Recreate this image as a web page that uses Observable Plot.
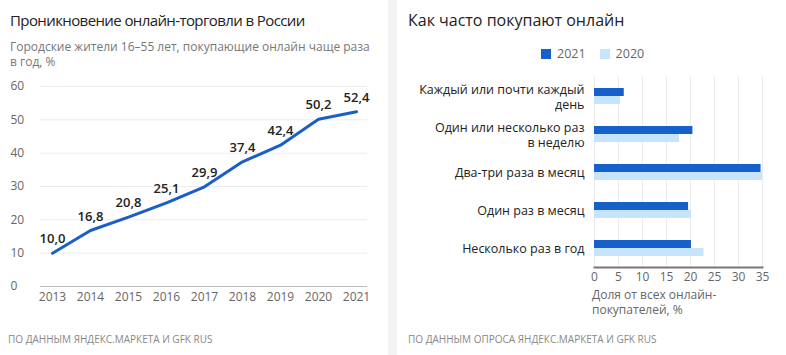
<!DOCTYPE html>
<html>
<head>
<meta charset="utf-8">
<script src="https://cdn.jsdelivr.net/npm/d3@7"></script>
<script src="https://cdn.jsdelivr.net/npm/@observablehq/plot@0.6"></script>
<style>
  html, body { margin: 0; padding: 0; background: #fff; }
  body { width: 786px; height: 355px; position: relative; overflow: hidden; font-family: "Open Sans", "Noto Sans", sans-serif; }
  .abs { position: absolute; white-space: nowrap; }
  .title { font-size: 16px; color: #222; }
  .sub { font-size: 12px; color: #777; line-height: 15px; }
  .foot { font-size: 10px; color: #888; }
  .sep { position: absolute; left: 388px; top: 0; width: 9px; height: 355px; background: #f3f3f3; }
  .leg { font-size: 12.5px; color: #666; display: flex; align-items: center; }
  .sw { display: inline-block; width: 10px; height: 10px; margin-right: 6px; }
  .xl { font-size: 12px; color: #666; line-height: 15px; white-space: normal; }
</style>
</head>
<body>
<div class="sep"></div>
<div class="abs title" style="left:10px; top:10px; font-size:15px; letter-spacing:-0.6px;">Проникновение онлайн-торговли в России</div>
<div class="abs sub" style="left:10px; top:39px;">Городские жители 16–55 лет, покупающие онлайн чаще раза<br>в год, %</div>
<div id="left" class="abs" style="left:0; top:70px;"></div>
<div class="abs foot" style="left:8px; top:332px;">ПО ДАННЫМ ЯНДЕКС.МАРКЕТА И GFK RUS</div>

<div class="abs title" style="left:408px; top:9px;">Как часто покупают онлайн</div>
<div class="abs leg" style="left:541px; top:45px;">
  <span class="sw" style="background:#1660cb"></span><span style="margin-right:14px">2021</span>
  <span class="sw" style="background:#c6e4fc"></span><span>2020</span>
</div>
<div id="right" class="abs" style="left:397px; top:70px;"></div>
<div class="abs xl" style="left:592px; top:287px;">Доля от всех онлайн-<br>покупателей, %</div>
<div class="abs foot" style="left:408px; top:332px;">ПО ДАННЫМ ОПРОСА ЯНДЕКС.МАРКЕТА И GFK RUS</div>

<script>
// Left chart data
const years = [2013, 2014, 2015, 2016, 2017, 2018, 2019, 2020, 2021];
const penetration = [10.0, 16.8, 20.8, 25.1, 29.9, 37.4, 42.4, 50.2, 52.4];
const yTicks = [0, 10, 20, 30, 40, 50, 60];

// Right chart data
const categories = [
  "Каждый или почти каждый день",
  "Один или несколько раз в неделю",
  "Два-три раза в месяц",
  "Один раз в месяц",
  "Несколько раз в год"
];
const share2021 = [6.2, 20.5, 34.7, 19.6, 20.2];
const share2020 = [5.4, 17.7, 35.0, 20.2, 22.8];
const xTicks = [0, 5, 10, 15, 20, 25, 30, 35];
const categoryLabels = [
  "Каждый или почти каждый\nдень",
  "Один или несколько раз\nв неделю",
  "Два-три раза в месяц",
  "Один раз в месяц",
  "Несколько раз в год"
];

const lineData = years.map((y, i) => ({year: y, value: penetration[i]}));
const fmt = v => v.toFixed(1).replace(".", ",");

const left = Plot.plot({
  width: 388,
  height: 240,
  marginTop: 16,
  marginBottom: 24,
  marginLeft: 40,
  marginRight: 21,
  style: {fontFamily: "'Open Sans', 'Noto Sans', sans-serif", background: "transparent"},
  x: {type: "point", domain: years, padding: 0.29},
  y: {domain: [0, 60]},
  marks: [
    Plot.gridY(yTicks.filter(d => d > 0), {stroke: "#ececec", strokeOpacity: 1}),
    Plot.ruleY([0], {stroke: "#bdbdbd"}),
    Plot.axisY(yTicks, {tickSize: 0, tickPadding: 30, textAnchor: "start", fontSize: 12, fill: "#666", label: null}),
    Plot.axisX(years, {tickSize: 0, tickPadding: 6, fontSize: 12, fill: "#666", label: null, tickFormat: d => String(d)}),
    Plot.line(lineData, {x: "year", y: "value", stroke: "#1a5fc8", strokeWidth: 3}),
    Plot.text(lineData, {x: "year", y: "value", text: d => fmt(d.value), dy: -14, fontSize: 13, fontWeight: 600, fill: "#222"})
  ]
});
document.getElementById("left").appendChild(left);

const barData = categories.map((c, i) => ({cat: c, label: categoryLabels[i], v2021: share2021[i], v2020: share2020[i]}));
const bandwidth = 16;

const right = Plot.plot({
  width: 389,
  height: 250,
  marginTop: 7,
  marginBottom: 53,
  marginLeft: 197,
  marginRight: 24,
  style: {fontFamily: "'Open Sans', 'Noto Sans', sans-serif", background: "transparent"},
  x: {domain: [0, 35]},
  y: {domain: categories, paddingInner: 0.579, paddingOuter: 0.289, axis: null},
  marks: [
    Plot.gridX(xTicks, {stroke: "#ececec", strokeOpacity: 1}),
    Plot.barX(barData, {y: "cat", x: "v2021", fill: "#1660cb", insetBottom: bandwidth / 2}),
    Plot.barX(barData, {y: "cat", x: "v2020", fill: "#c6e4fc", insetTop: bandwidth / 2}),
    Plot.frame({anchor: "bottom", stroke: "#777", strokeWidth: 2}),
    Plot.axisX(xTicks, {tickSize: 0, tickPadding: 5, fontSize: 12, fill: "#666", label: null}),
    Plot.text(barData, {y: "cat", text: "label", frameAnchor: "left", textAnchor: "end", dx: -10, fontSize: 12.5, fill: "#222", lineHeight: 1.2})
  ]
});
document.getElementById("right").appendChild(right);
</script>
</body>
</html>
